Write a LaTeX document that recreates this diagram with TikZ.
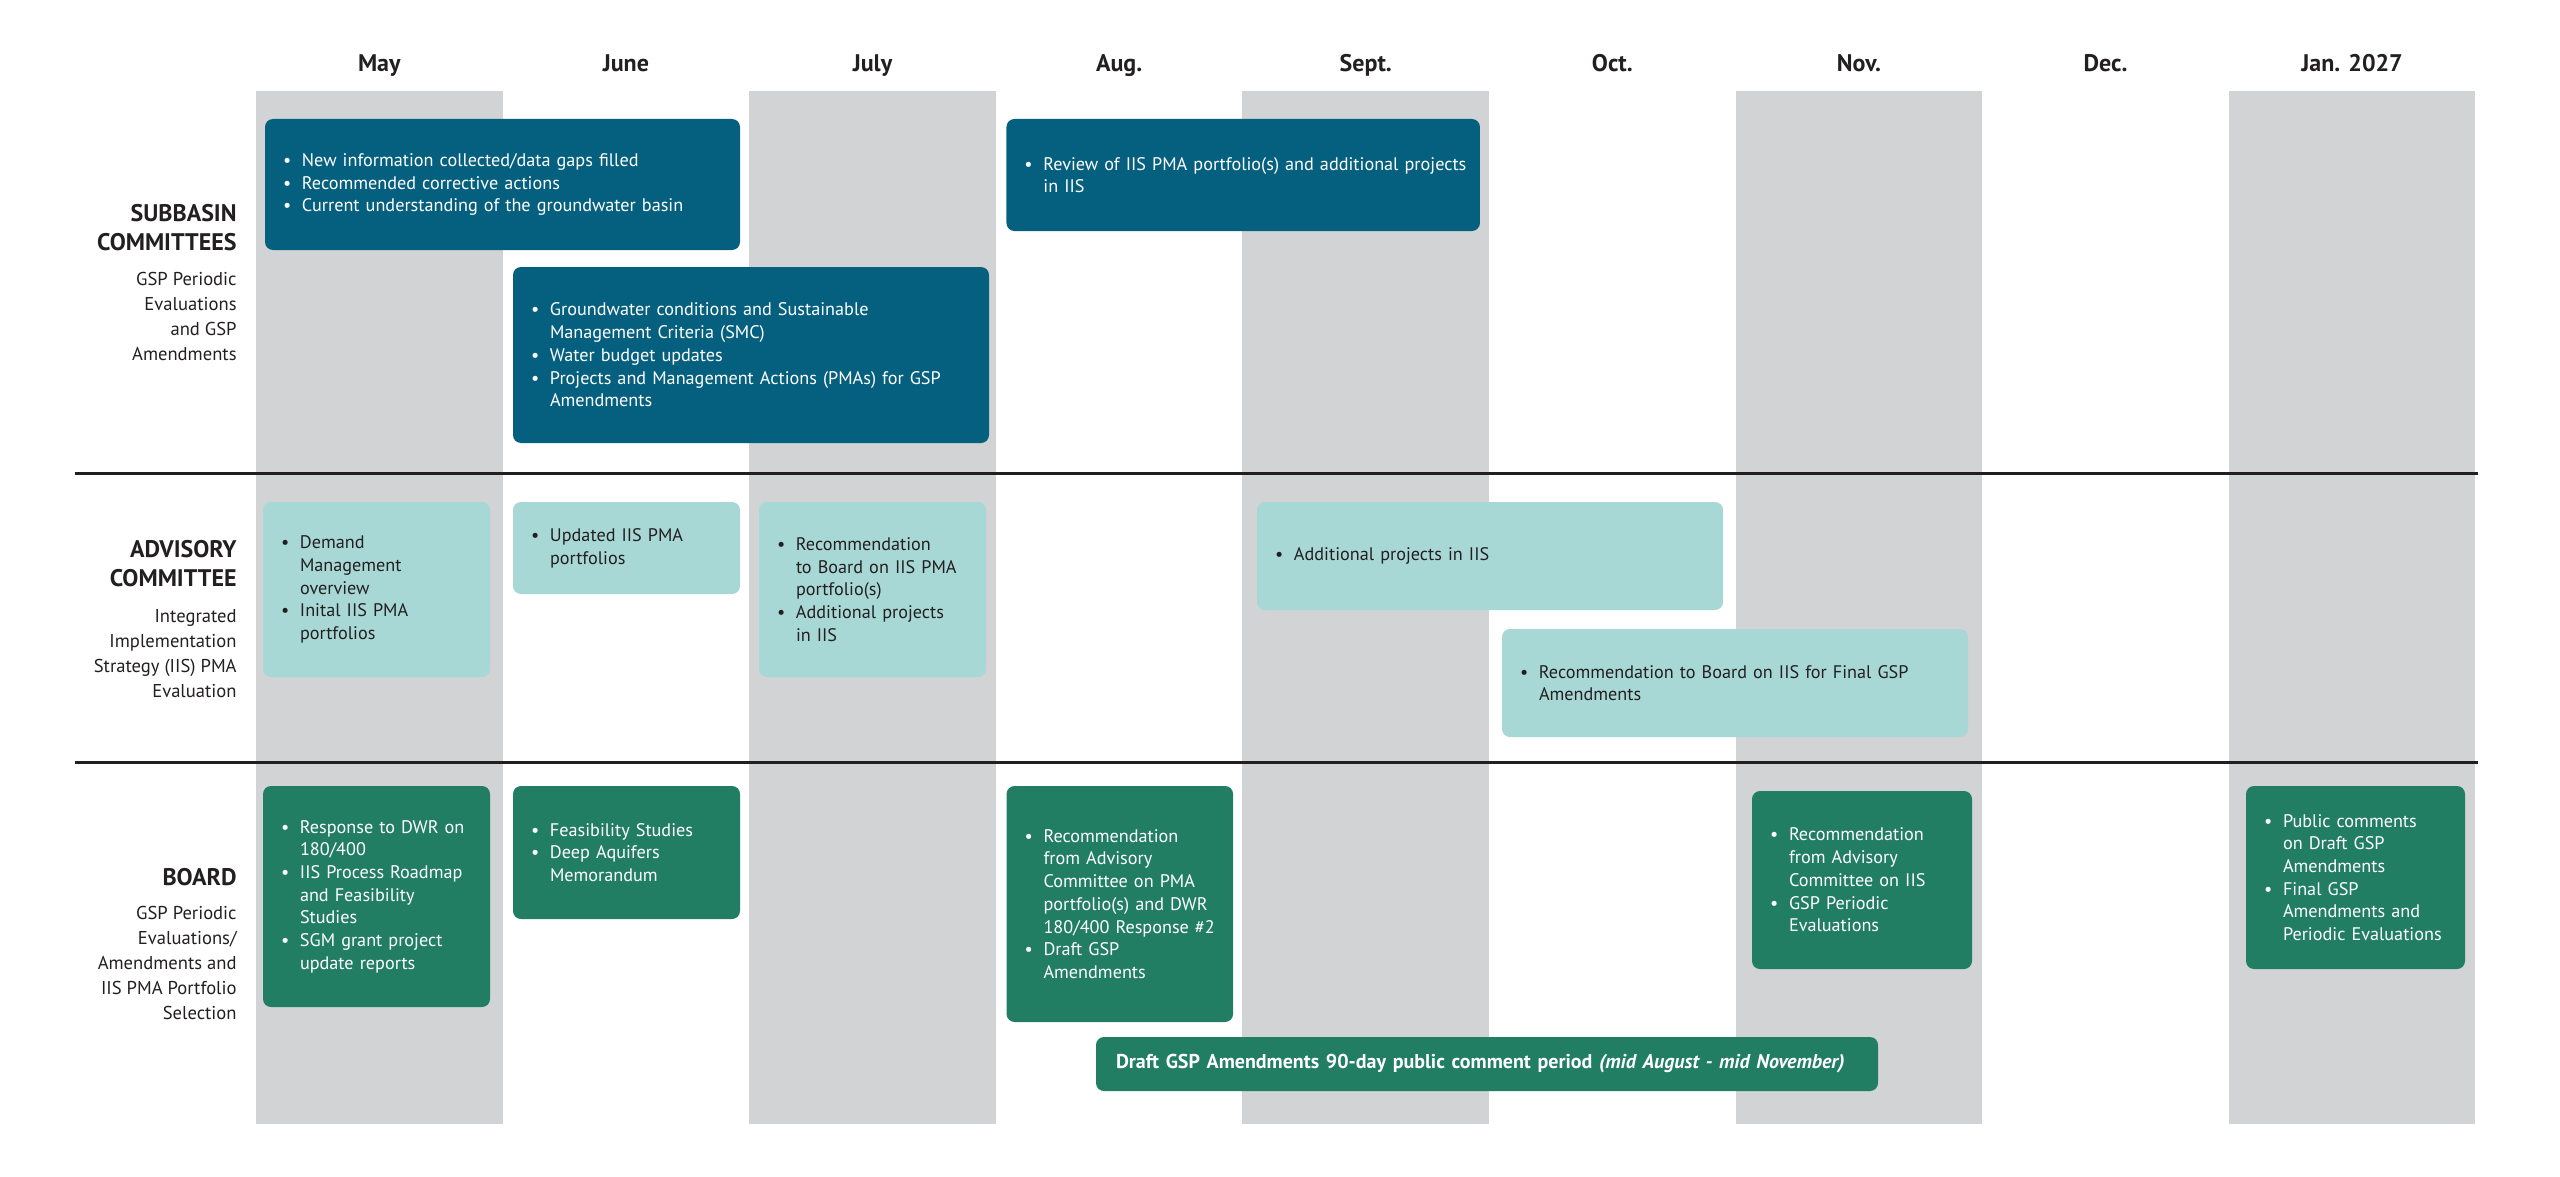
\documentclass[tikz,border=0pt]{standalone}
\usepackage{fontspec}
\setmainfont{PT Sans}

\definecolor{subblue}{HTML}{05607F}
\definecolor{advteal}{HTML}{A8D8D6}
\definecolor{boardgreen}{HTML}{217E62}
\definecolor{colgray}{HTML}{D1D3D4}
\definecolor{inkblack}{HTML}{231F20}

\newcommand{\bitem}{\makebox[9.5pt][l]{\textbullet}}
\newcommand{\bcont}{\hspace*{9.5pt}}

\tikzset{
    month/.style={font=\fontsize{12}{14}\selectfont\bfseries, text=inkblack, anchor=base, inner sep=0pt},
    rowhead/.style={font=\fontsize{12}{14.2}\selectfont\bfseries, text=inkblack, align=right, anchor=base east, inner sep=0pt},
    rowsub/.style={font=\fontsize{9.3}{12.5}\selectfont, text=inkblack, align=right, anchor=base east, inner sep=0pt},
    task/.style={rectangle, rounded corners=4pt, inner xsep=9pt, inner ysep=0pt, align=left, font=\fontsize{9.1}{11.35}\selectfont},
    subtask/.style={task, fill=subblue, text=white},
    advtask/.style={task, fill=advteal, text=inkblack},
    boardtask/.style={task, fill=boardgreen, text=white}
}

\begin{document}
\begin{tikzpicture}[x=1pt, y=-1pt]
    \useasboundingbox (0,0) rectangle (1280,588.5);

    % Month columns
    \foreach \i/\m in {0/May,1/June,2/July,3/Aug.,4/Sept.,5/Oct.,6/Nov.,7/Dec.,8/Jan. 2027} {
        \ifodd\i\else
            \fill[colgray] ({128+123.3*\i},45.3) rectangle ({128+123.3*(\i+1)},562);
        \fi
        \node[month] (m\i) at ({128+123.3*(\i+0.5)},36) {\m};
    }

    % Row separators
    \draw[inkblack, line width=1.5pt] (37.5,236.75) -- (1239,236.75);
    \draw[inkblack, line width=1.5pt] (37.5,381.25) -- (1239,381.25);

    % Row labels (base = baseline of the last line)
    \node[rowhead] (subhead) at (118.5,125) {SUBBASIN\\COMMITTEES};
    \node[rowsub] (subsub) at (118.5,180) {GSP Periodic\\Evaluations\\and GSP\\Amendments};
    \node[rowhead] (advhead) at (118.5,293) {ADVISORY\\COMMITTEE};
    \node[rowsub] (advsub) at (118.5,348.5) {Integrated\\Implementation\\Strategy (IIS) PMA\\Evaluation};
    \node[rowhead] (boardhead) at (118.5,442.8) {BOARD};
    \node[rowsub] (boardsub) at (118.5,509.5) {GSP Periodic\\Evaluations/\\Amendments and\\IIS PMA Portfolio\\Selection};

    % Subbasin committees
    \node[subtask, minimum width=237.5pt, minimum height=65.5pt, text width=219.5pt] (newinfo) at (251.25,92.25)
        {\bitem New information collected/data gaps filled\\
         \bitem Recommended corrective actions\\
         \bitem Current understanding of the groundwater basin};
    \node[subtask, minimum width=238pt, minimum height=88pt, text width=220pt] (gwcond) at (375.5,177.5)
        {\bitem Groundwater conditions and Sustainable\\
         \bcont Management Criteria (SMC)\\
         \bitem Water budget updates\\
         \bitem \mbox{Projects and Management Actions (PMAs) for GSP}\\
         \bcont Amendments};
    \node[subtask, minimum width=236.75pt, minimum height=56pt, text width=218.75pt] (review) at (621.6,87.5)
        {\bitem \mbox{Review of IIS PMA portfolio(s) and additional projects}\\
         \bcont in IIS};

    % Advisory committee
    \node[advtask, minimum width=113.5pt, minimum height=87.5pt, text width=95.5pt] (demand) at (188.25,294.75)
        {\bitem Demand\\
         \bcont Management\\
         \bcont overview\\
         \bitem Inital IIS PMA\\
         \bcont portfolios};
    \node[advtask, minimum width=113.5pt, minimum height=46pt, text width=95.5pt] (updated) at (313.25,274)
        {\bitem Updated IIS PMA\\
         \bcont portfolios};
    \node[advtask, minimum width=113.5pt, minimum height=87.5pt, text width=95.5pt] (advrec) at (436.25,294.75)
        {\bitem Recommendation\\
         \bcont \mbox{to Board on IIS PMA}\\
         \bcont portfolio(s)\\
         \bitem Additional projects\\
         \bcont in IIS};
    \node[advtask, minimum width=233pt, minimum height=54pt, text width=215pt] (addproj) at (745,278)
        {\bitem Additional projects in IIS};
    \node[advtask, minimum width=233pt, minimum height=54pt, text width=215pt] (finalrec) at (867.5,341.5)
        {\bitem Recommendation to Board on IIS for Final GSP\\
         \bcont Amendments};

    % Board
    \node[boardtask, minimum width=113.5pt, minimum height=110.5pt, text width=95.5pt] (dwrresp) at (188.25,448.25)
        {\bitem Response to DWR on\\
         \bcont 180/400\\
         \bitem \mbox{IIS Process Roadmap}\\
         \bcont and Feasibility\\
         \bcont Studies\\
         \bitem SGM grant project\\
         \bcont update reports};
    \node[boardtask, minimum width=113.5pt, minimum height=66.5pt, text width=95.5pt] (feas) at (313.25,426.25)
        {\bitem Feasibility Studies\\
         \bitem Deep Aquifers\\
         \bcont Memorandum};
    \node[boardtask, minimum width=113.25pt, minimum height=118pt, text width=95.25pt] (pmarec) at (559.9,452)
        {\bitem Recommendation\\
         \bcont from Advisory\\
         \bcont Committee on PMA\\
         \bcont \mbox{portfolio(s) and DWR}\\
         \bcont \mbox{180/400 Response \#2}\\
         \bitem Draft GSP\\
         \bcont Amendments};
    \node[boardtask, minimum width=110pt, minimum height=89pt, text width=92pt] (iisrec) at (931,440)
        {\bitem Recommendation\\
         \bcont from Advisory\\
         \bcont Committee on IIS\\
         \bitem GSP Periodic\\
         \bcont Evaluations};
    \node[boardtask, minimum width=109.5pt, minimum height=91.5pt, text width=91.5pt] (final) at (1177.75,438.75)
        {\bitem Public comments\\
         \bcont on Draft GSP\\
         \bcont Amendments\\
         \bitem Final GSP\\
         \bcont Amendments and\\
         \bcont \mbox{Periodic Evaluations}};

    % Public comment period
    \node[boardtask, inner xsep=10pt, minimum width=391pt, minimum height=27pt, text width=371pt,
          font=\fontsize{10}{12}\selectfont\bfseries] (comment) at (743.5,532)
        {Draft GSP Amendments 90-day public comment period \textit{(mid August - mid November)}};
\end{tikzpicture}
\end{document}
